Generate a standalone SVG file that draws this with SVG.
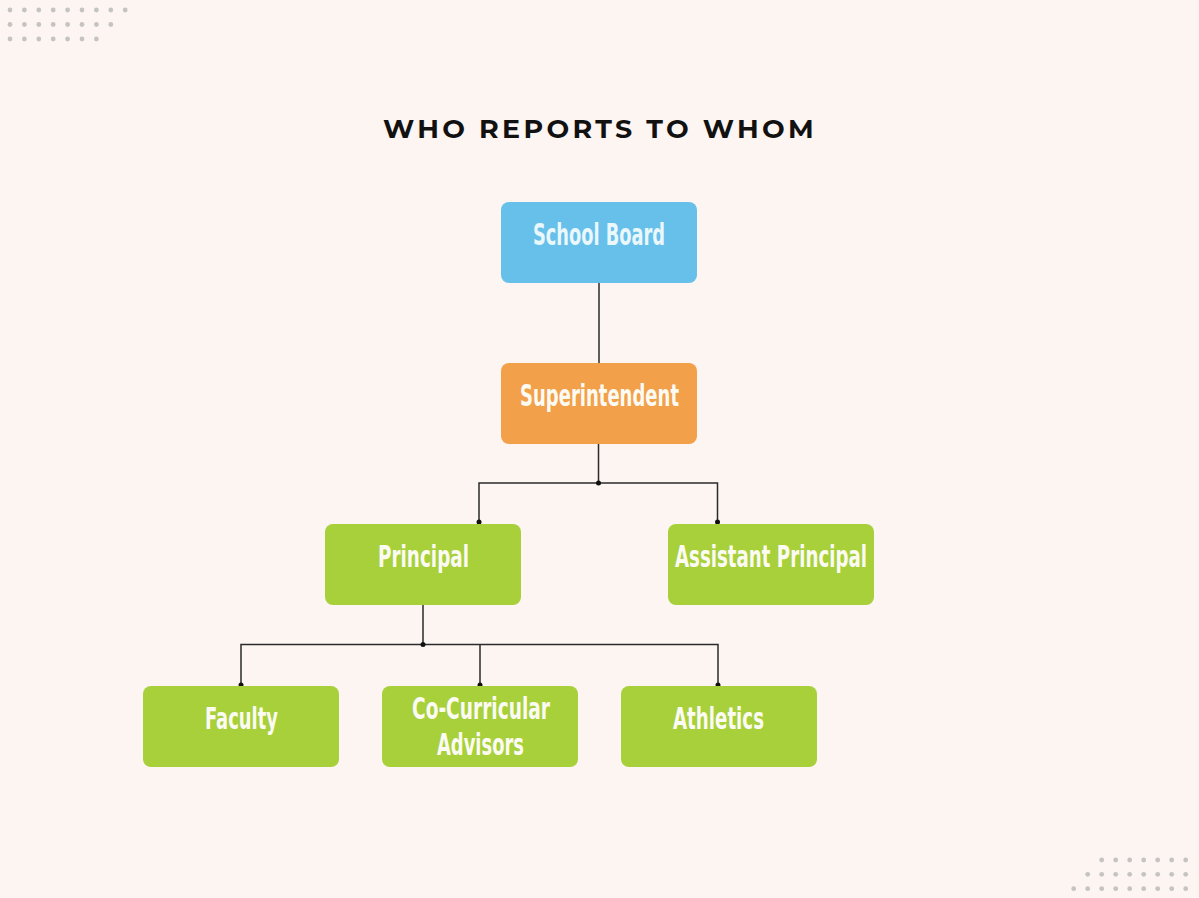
<svg xmlns="http://www.w3.org/2000/svg" width="1199" height="898" viewBox="0 0 1199 898">
<defs>
<style>
.bg{fill:#fcf5f2}
.dot{fill:#c6c4c3}
.title{font-family:"Montserrat","Lato","Open Sans",sans-serif;font-weight:700;font-size:26px;letter-spacing:3.2px;fill:#111}
.box{stroke:none}
.blue{fill:#67c0ea}
.orange{fill:#f3a04a}
.green{fill:#a8d03a}
.lbl{font-family:"DejaVu Sans Condensed","Liberation Sans Narrow","DejaVu Sans",sans-serif;font-stretch:condensed;font-weight:700;font-size:30px;fill:#fbfbf3;text-anchor:middle}
.lblb{fill:#eaf7fb}
.conn{stroke:#2b2b2b;stroke-width:1.5;fill:none}
.jd{fill:#111}
</style>
</defs>
<rect class="bg" x="0" y="0" width="1199" height="898"/>
<g id="dots-tl">
<circle class="dot" cx="10" cy="10" r="2.4"/><circle class="dot" cx="24.4" cy="10" r="2.4"/><circle class="dot" cx="38.8" cy="10" r="2.4"/><circle class="dot" cx="53.2" cy="10" r="2.4"/><circle class="dot" cx="67.6" cy="10" r="2.4"/><circle class="dot" cx="82" cy="10" r="2.4"/><circle class="dot" cx="96.4" cy="10" r="2.4"/><circle class="dot" cx="110.8" cy="10" r="2.4"/><circle class="dot" cx="125.2" cy="10" r="2.4"/>
<circle class="dot" cx="10" cy="24.5" r="2.4"/><circle class="dot" cx="24.4" cy="24.5" r="2.4"/><circle class="dot" cx="38.8" cy="24.5" r="2.4"/><circle class="dot" cx="53.2" cy="24.5" r="2.4"/><circle class="dot" cx="67.6" cy="24.5" r="2.4"/><circle class="dot" cx="82" cy="24.5" r="2.4"/><circle class="dot" cx="96.4" cy="24.5" r="2.4"/><circle class="dot" cx="110.8" cy="24.5" r="2.4"/>
<circle class="dot" cx="10" cy="39" r="2.4"/><circle class="dot" cx="24.4" cy="39" r="2.4"/><circle class="dot" cx="38.8" cy="39" r="2.4"/><circle class="dot" cx="53.2" cy="39" r="2.4"/><circle class="dot" cx="67.6" cy="39" r="2.4"/><circle class="dot" cx="82" cy="39" r="2.4"/><circle class="dot" cx="96.4" cy="39" r="2.4"/>
</g>
<g id="dots-br">
<circle class="dot" cx="1101.7" cy="860" r="2.4"/><circle class="dot" cx="1115.7" cy="860" r="2.4"/><circle class="dot" cx="1129.7" cy="860" r="2.4"/><circle class="dot" cx="1143.7" cy="860" r="2.4"/><circle class="dot" cx="1157.7" cy="860" r="2.4"/><circle class="dot" cx="1171.7" cy="860" r="2.4"/><circle class="dot" cx="1185.7" cy="860" r="2.4"/>
<circle class="dot" cx="1087.7" cy="874.3" r="2.4"/><circle class="dot" cx="1101.7" cy="874.3" r="2.4"/><circle class="dot" cx="1115.7" cy="874.3" r="2.4"/><circle class="dot" cx="1129.7" cy="874.3" r="2.4"/><circle class="dot" cx="1143.7" cy="874.3" r="2.4"/><circle class="dot" cx="1157.7" cy="874.3" r="2.4"/><circle class="dot" cx="1171.7" cy="874.3" r="2.4"/><circle class="dot" cx="1185.7" cy="874.3" r="2.4"/>
<circle class="dot" cx="1073.7" cy="888.7" r="2.4"/><circle class="dot" cx="1087.7" cy="888.7" r="2.4"/><circle class="dot" cx="1101.7" cy="888.7" r="2.4"/><circle class="dot" cx="1115.7" cy="888.7" r="2.4"/><circle class="dot" cx="1129.7" cy="888.7" r="2.4"/><circle class="dot" cx="1143.7" cy="888.7" r="2.4"/><circle class="dot" cx="1157.7" cy="888.7" r="2.4"/><circle class="dot" cx="1171.7" cy="888.7" r="2.4"/><circle class="dot" cx="1185.7" cy="888.7" r="2.4"/>
</g>
<text id="title" class="title" x="600" y="138" text-anchor="middle" textLength="434" lengthAdjust="spacingAndGlyphs">WHO REPORTS TO WHOM</text>
<g id="connectors">
<path class="conn" d="M599 283 V363"/>
<path class="conn" d="M598.5 444 V483 M479 522 V483 H717.5 V522"/>
<circle class="jd" cx="598.5" cy="483" r="2.5"/>
<circle class="jd" cx="479" cy="522" r="2.5"/>
<circle class="jd" cx="717.5" cy="522" r="2.5"/>
<path class="conn" d="M423 605 V644.5 M241 685 V644.5 H718 V685 M480 644.5 V685"/>
<circle class="jd" cx="423" cy="644.5" r="2.5"/>
<circle class="jd" cx="241" cy="685" r="2.5"/>
<circle class="jd" cx="480" cy="685" r="2.5"/>
<circle class="jd" cx="718" cy="685" r="2.5"/>
</g>
<g id="school-board">
<rect class="box blue" x="501" y="202" width="196" height="81" rx="8"/>
<text class="lbl lblb" x="599" y="245" textLength="132" lengthAdjust="spacingAndGlyphs">School Board</text>
</g>
<g id="superintendent">
<rect class="box orange" x="501" y="363" width="196" height="81" rx="8"/>
<text class="lbl" x="599.5" y="406" textLength="159" lengthAdjust="spacingAndGlyphs">Superintendent</text>
</g>
<g id="principal">
<rect class="box green" x="325" y="524" width="196" height="81" rx="8"/>
<text class="lbl" x="423.5" y="567" textLength="91" lengthAdjust="spacingAndGlyphs">Principal</text>
</g>
<g id="assistant-principal">
<rect class="box green" x="668" y="524" width="206" height="81" rx="8"/>
<text class="lbl" x="771" y="567" textLength="192" lengthAdjust="spacingAndGlyphs">Assistant Principal</text>
</g>
<g id="faculty">
<rect class="box green" x="143" y="686" width="196" height="81" rx="8"/>
<text class="lbl" x="241.5" y="729" textLength="73" lengthAdjust="spacingAndGlyphs">Faculty</text>
</g>
<g id="co-curricular-advisors">
<rect class="box green" x="382" y="686" width="196" height="81" rx="8"/>
<text class="lbl" x="481" y="719" textLength="138" lengthAdjust="spacingAndGlyphs">Co-Curricular</text>
<text class="lbl" x="480.5" y="755" textLength="87" lengthAdjust="spacingAndGlyphs">Advisors</text>
</g>
<g id="athletics">
<rect class="box green" x="621" y="686" width="196" height="81" rx="8"/>
<text class="lbl" x="718.5" y="729" textLength="91" lengthAdjust="spacingAndGlyphs">Athletics</text>
</g>
</svg>
